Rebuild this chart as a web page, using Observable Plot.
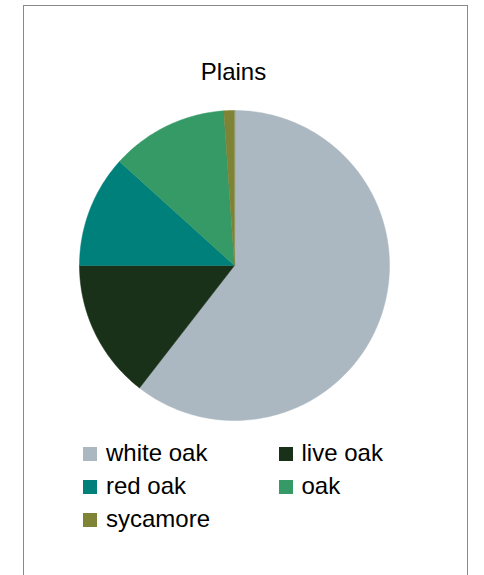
<!DOCTYPE html>
<html>
<head>
<meta charset="utf-8">
<script src="https://cdn.jsdelivr.net/npm/d3@7"></script>
<script src="https://cdn.jsdelivr.net/npm/@observablehq/plot@0.6"></script>
<style>
  html, body { margin: 0; padding: 0; background: #fff; }
  body { width: 484px; height: 575px; position: relative; overflow: hidden;
         font-family: "Liberation Sans", Arial, sans-serif; color: #000; }
  #frame { position: absolute; left: 23px; top: 5px; width: 445px; height: 600px;
           border: 1px solid #8a8a8a; box-sizing: border-box; }
  #chart { position: absolute; left: 0; top: 0; }
  #title { position: absolute; left: 133.5px; width: 200px; top: 59.7px; text-align: center;
           font-size: 24px; line-height: 24px; }
  .sw { position: absolute; width: 14px; height: 14px; }
  .lab { position: absolute; font-size: 24px; line-height: 24px; white-space: nowrap; }
</style>
</head>
<body>
<div id="frame"></div>
<div id="chart"></div>
<div id="title">Plains</div>
<div id="legend"></div>
<script>
const title = "Plains";
const categories = ["white oak", "live oak", "red oak", "oak", "sycamore"];
const values = [60.5, 14.5, 11.7, 12.2, 1.1];
const colors = ["#abb8c1", "#1a3119", "#00807b", "#369a67", "#7f8335"];

document.getElementById("title").textContent = title;

// Build slice polygons (clockwise from 12 o'clock) from the values
const total = d3.sum(values);
const points = [];
let start = 0;
categories.forEach((name, i) => {
  const end = start + values[i] / total * 2 * Math.PI;
  points.push({name, u: 0, v: 0});
  const steps = Math.max(2, Math.ceil((end - start) / (Math.PI / 180)));
  for (let k = 0; k <= steps; k++) {
    const a = start + (end - start) * k / steps;
    points.push({name, u: Math.sin(a), v: Math.cos(a)});
  }
  start = end;
});

const plot = Plot.plot({
  width: 484,
  height: 575,
  margin: 0,
  style: {background: "transparent"},
  x: {domain: [-1, 1], range: [79, 389], axis: null},
  y: {domain: [-1, 1], range: [420, 110], axis: null},
  color: {domain: categories, range: colors},
  marks: [
    Plot.line(points, {x: "u", y: "v", z: "name", fill: "name", stroke: "name", strokeWidth: 0.5, curve: "linear-closed"})
  ]
});
document.getElementById("chart").appendChild(plot);

// Legend (two columns)
const legend = document.getElementById("legend");
categories.forEach((name, i) => {
  const col = i % 2, row = Math.floor(i / 2);
  const sw = document.createElement("div");
  sw.className = "sw";
  sw.style.left = (82.5 + col * 196) + "px";
  sw.style.top = (447 + row * 33) + "px";
  sw.style.background = colors[i];
  legend.appendChild(sw);
  const lab = document.createElement("div");
  lab.className = "lab";
  lab.style.left = (106 + col * 195.5) + "px";
  lab.style.top = (441.3 + row * 33) + "px";
  lab.textContent = name;
  legend.appendChild(lab);
});
</script>
</body>
</html>
